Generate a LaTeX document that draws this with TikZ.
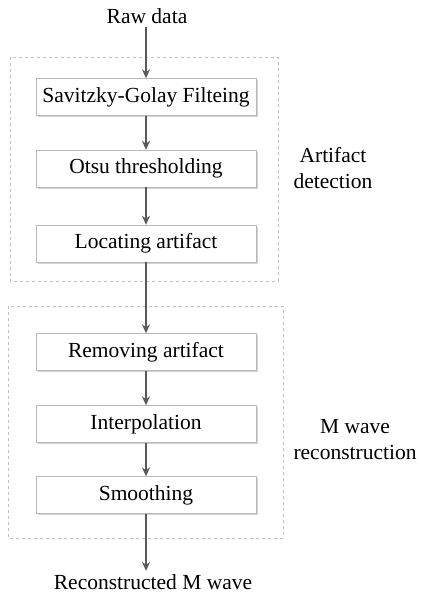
\documentclass[tikz,border=0pt]{standalone}
\usepackage{fontspec}
\setmainfont{Liberation Serif}
\usetikzlibrary{positioning,arrows.meta,shadows}

\tikzset{
	stage/.style={draw=gray!55, fill=white, minimum width=220pt, minimum height=37pt, inner sep=0pt,
		drop shadow={shadow xshift=1.5pt, shadow yshift=-1.5pt, opacity=0.35}},
	flow/.style={draw=black!65, line width=1.5pt, -{Stealth[length=9pt,width=8pt]}},
	group/.style={draw=gray!50, dashed, line width=0.6pt},
	lbl/.style={align=center, font=\fontsize{21.5}{26}\selectfont},
}

\begin{document}
\begin{tikzpicture}[x=1pt, y=-1pt, font=\fontsize{21.5}{26}\selectfont]
		\useasboundingbox (0,0) rectangle (421,600);
		% dashed groups
		\draw[group] (10,57) rectangle (278,281);
		\draw[group] (8,306) rectangle (283,538);
		% stages
		\node (raw) at (147,16) {Raw data};
		\node[stage] (sg) at (146,97) {Savitzky-Golay Filteing};
		\node[stage] (otsu) at (146,168.5) {Otsu thresholding};
		\node[stage] (loc) at (146,243.5) {Locating artifact};
		\node[stage] (rem) at (146,352) {Removing artifact};
		\node[stage] (interp) at (146,424) {Interpolation};
		\node[stage] (smooth) at (146,495) {Smoothing};
		\node (out) at (153,582) {Reconstructed M wave};
		% group labels
		\node[lbl] (detlab) at (333,168) {Artifact\\detection};
		\node[lbl] (reclab) at (355,440) {M wave\\reconstruction};
		% arrows
		\draw[flow] (raw.south -| sg.north) -- (sg.north);
		\draw[flow] (sg) -- (otsu);
		\draw[flow] (otsu) -- (loc);
		\draw[flow] (loc) -- (rem);
		\draw[flow] (rem) -- (interp);
		\draw[flow] (interp) -- (smooth);
		\draw[flow] (smooth.south) -- (smooth.south |- out.north);
	\end{tikzpicture}
\end{document}
